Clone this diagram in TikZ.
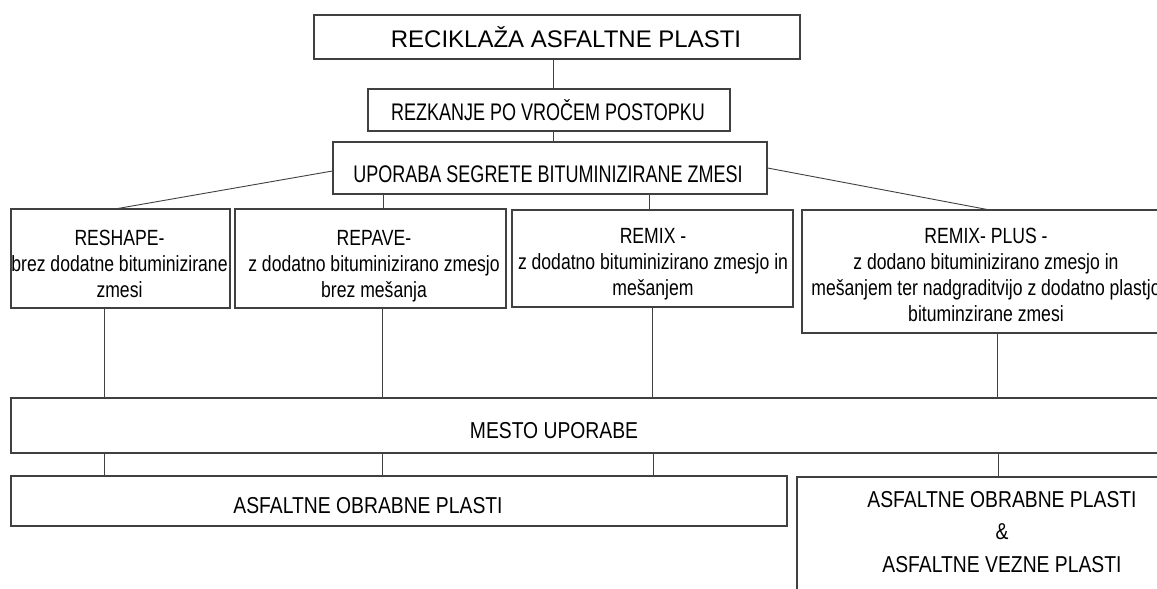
\documentclass[tikz,border=0pt]{standalone}
\usepackage{fontspec}
\setmainfont{Liberation Sans}
\newfontfamily\fTitle{Liberation Sans}
\newfontfamily\fHead[FakeStretch=0.75]{Liberation Sans}
\newfontfamily\fBody[FakeStretch=0.80]{Liberation Sans}
\newfontfamily\fUse[FakeStretch=0.84]{Liberation Sans}
\newcommand\lines[1]{\begin{tabular}[t]{@{}c@{}}#1\end{tabular}}
\begin{document}
\begin{tikzpicture}[x=1pt,y=-1pt]
\tikzset{
  box/.style={draw=black!75, line width=1.1pt, rectangle, inner sep=0pt},
  conn/.style={draw=black!75, line width=0.9pt},
  ttl/.style={font=\fTitle\fontsize{24}{28}\selectfont, anchor=base, inner sep=0pt},
  hd/.style={font=\fHead\fontsize{24}{28}\selectfont, anchor=base, inner sep=0pt},
  bd/.style={font=\fBody\fontsize{22}{26}\selectfont, anchor=base, inner sep=0pt},
  us/.style={font=\fUse\fontsize{23}{32.5}\selectfont, anchor=base, inner sep=0pt},
}
\useasboundingbox[fill=white] (0,0) rectangle (1157,589);
\clip (0,0) rectangle (1157,589);

% boxes
\node[box, minimum width=486pt, minimum height=44pt] (b1) at (557,37) {};
\node[box, minimum width=362pt, minimum height=42pt] (b2) at (549,110) {};
\node[box, minimum width=434pt, minimum height=52pt] (b3) at (550,168) {};
\node[box, minimum width=219pt, minimum height=99pt] (r1) at (120.5,258.5) {};
\node[box, minimum width=271pt, minimum height=99pt] (r2) at (370.5,258.5) {};
\node[box, minimum width=281pt, minimum height=97pt] (r3) at (652.5,258.5) {};
\node[box, minimum width=368pt, minimum height=123pt] (r4) at (986,271.5) {};
\node[box, minimum width=1159pt, minimum height=55pt] (m) at (590.5,425.5) {};
\node[box, minimum width=776pt, minimum height=50pt] (a1) at (399,501) {};
\node[box, minimum width=413pt, minimum height=133pt] (a2) at (1003.5,543.5) {};

% texts
\node[ttl] (t1) at (566,47) {RECIKLAŽA ASFALTNE PLASTI};
\node[hd] (t2) at (548,120) {REZKANJE PO VROČEM POSTOPKU};
\node[hd] (t3) at (548,182) {UPORABA SEGRETE BITUMINIZIRANE ZMESI};
\node[bd] (tr1) at (119.5,245) {\lines{RESHAPE-\\brez dodatne bituminizirane\\zmesi}};
\node[bd] (tr2) at (374,245) {\lines{REPAVE-\\z dodatno bituminizirano zmesjo\\brez mešanja}};
\node[bd] (tr3) at (653,243) {\lines{REMIX -\\z dodatno bituminizirano zmesjo in\\mešanjem}};
\node[bd] (tr4) at (986,243) {\lines{REMIX- PLUS -\\z dodano bituminizirano zmesjo in\\mešanjem ter nadgraditvijo z dodatno plastjo\\bituminzirane zmesi}};
\node[us] (tm) at (554,438) {MESTO UPORABE};
\node[us] (ta1) at (368,513) {ASFALTNE OBRABNE PLASTI};
\node[us] (ta2) at (1002,507) {\lines{ASFALTNE OBRABNE PLASTI\\\&\\ASFALTNE VEZNE PLASTI}};

% connectors
\draw[conn] (b1.south -| 553,0) -- (b2.north -| 553,0);
\draw[conn] (b2.south -| 553,0) -- (b3.north -| 553,0);
\draw[conn] ([yshift=-3pt]b3.west) -- (r1.north -| 118,0);
\draw[conn] (b3.east) -- (r4.north -| 987,0);
\draw[conn] (b3.south -| 383,0) -- (r2.north -| 383,0);
\draw[conn] (b3.south -| 649,0) -- (r3.north -| 649,0);
\draw[conn] (r1.south -| 104,0) -- (m.north -| 104,0);
\draw[conn] (r2.south -| 382,0) -- (m.north -| 382,0);
\draw[conn] (r3.south -| 652,0) -- (m.north -| 652,0);
\draw[conn] (r4.south -| 997,0) -- (m.north -| 997,0);
\draw[conn] (m.south -| 104,0) -- (a1.north -| 104,0);
\draw[conn] (m.south -| 382,0) -- (a1.north -| 382,0);
\draw[conn] (m.south -| 653,0) -- (a1.north -| 653,0);
\draw[conn] (m.south -| 998,0) -- (a2.north -| 998,0);
\end{tikzpicture}
\end{document}
